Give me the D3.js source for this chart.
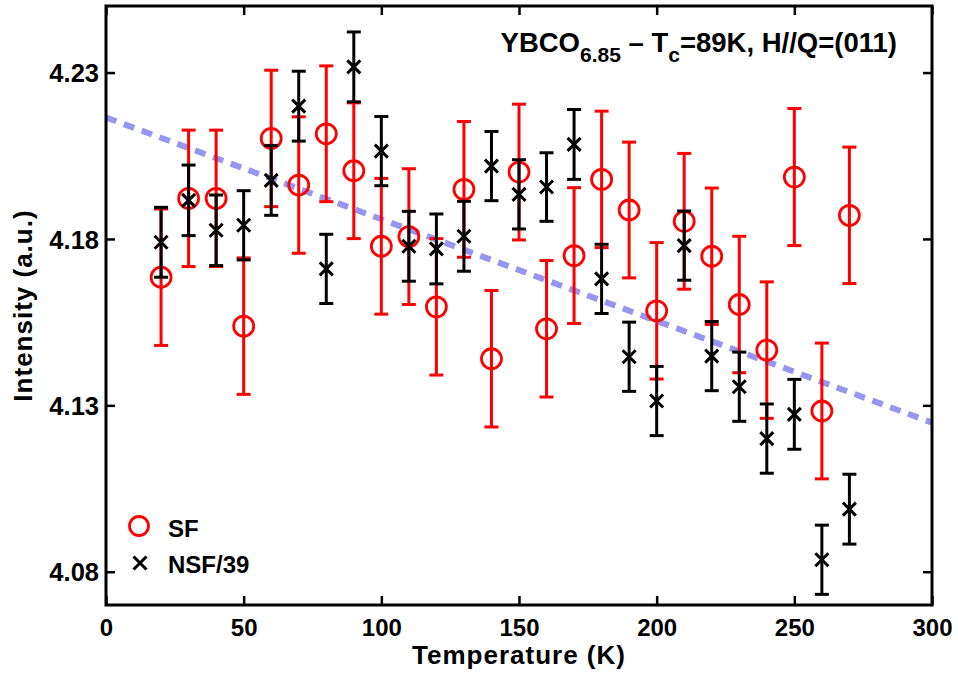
<!DOCTYPE html>
<html>
<head>
<meta charset="utf-8">
<script src="https://cdn.jsdelivr.net/npm/d3@7"></script>
<style>
  html, body { margin: 0; padding: 0; background: #fff; }
  svg { display: block; }
  text { font-family: "Liberation Sans", Arial, Helvetica, sans-serif; font-weight: bold; fill: #000; }
</style>
</head>
<body>
<div id="chart"></div>
<script>
// ---- data ----
const temperatures = [20, 30, 40, 50, 60, 70, 80, 90, 100, 110, 120, 130, 140, 150, 160, 170, 180, 190, 200, 210, 220, 230, 240, 250, 260, 270];
const sfValues  = [4.1685, 4.1922, 4.1922, 4.1538, 4.2102, 4.1962, 4.2116, 4.2005, 4.1778, 4.1807, 4.1596, 4.1949, 4.1440, 4.2001, 4.1530, 4.1750, 4.1979, 4.1887, 4.1584, 4.1853, 4.1748, 4.1603, 4.1466, 4.1986, 4.1283, 4.1871];
const sfErrors  = [0.0205, 0.0205, 0.0205, 0.0205, 0.0205, 0.0205, 0.0204, 0.0204, 0.0204, 0.0204, 0.0205, 0.0204, 0.0205, 0.0204, 0.0205, 0.0204, 0.0205, 0.0204, 0.0205, 0.0204, 0.0205, 0.0205, 0.0205, 0.0206, 0.0204, 0.0205];
const nsfValues = [4.1790, 4.1916, 4.1826, 4.1841, 4.1976, 4.2199, 4.1710, 4.2317, 4.2064, 4.1778, 4.1770, 4.1808, 4.2019, 4.1934, 4.1956, 4.2084, 4.1680, 4.1446, 4.1313, 4.1780, 4.1448, 4.1356, 4.1200, 4.1273, 4.0836, 4.0988];
const nsfErrors = [0.0105, 0.0106, 0.0106, 0.0104, 0.0105, 0.0105, 0.0104, 0.0105, 0.0104, 0.0105, 0.0105, 0.0105, 0.0104, 0.0104, 0.0103, 0.0105, 0.0104, 0.0104, 0.0104, 0.0104, 0.0104, 0.0104, 0.0104, 0.0105, 0.0104, 0.0105];
const fitTemperatures = [0, 300];
const fitValues = [4.2165, 4.1248];
const xTicks = [0, 50, 100, 150, 200, 250, 300];
const yTicks = [4.08, 4.13, 4.18, 4.23];
const xDomain = [0, 300];
const yDomain = [4.07, 4.25];

// ---- layout ----
const W = 958, H = 675;
const m = { left: 106, right: 26, top: 6, bottom: 70 };
const pw = W - m.left - m.right, ph = H - m.top - m.bottom;

const svg = d3.select("#chart").append("svg").attr("width", W).attr("height", H);
const g = svg.append("g").attr("transform", `translate(${m.left},${m.top})`);

const x = d3.scaleLinear().domain(xDomain).range([0, pw]);
const y = d3.scaleLinear().domain(yDomain).range([ph, 0]);

// fit line (under the data)
const fit = fitTemperatures.map((t, i) => ({ t, v: fitValues[i] }));
g.append("path")
  .datum(fit)
  .attr("d", d3.line().x(d => x(d.t)).y(d => y(d.v)))
  .attr("fill", "none")
  .attr("stroke", "rgb(150,150,240)")
  .attr("stroke-width", 6)
  .attr("stroke-dasharray", "11,8");

function errorBars(values, errors, color) {
  const data = temperatures.map((t, i) => ({ t, v: values[i], e: errors[i] }));
  const eg = g.append("g").attr("stroke", color).attr("stroke-width", 3).attr("fill", "none");
  eg.selectAll("line.v").data(data).join("line")
    .attr("x1", d => x(d.t)).attr("x2", d => x(d.t))
    .attr("y1", d => y(d.v - d.e)).attr("y2", d => y(d.v + d.e));
  eg.selectAll("line.top").data(data).join("line")
    .attr("x1", d => x(d.t) - 7).attr("x2", d => x(d.t) + 7)
    .attr("y1", d => y(d.v + d.e)).attr("y2", d => y(d.v + d.e));
  eg.selectAll("line.bot").data(data).join("line")
    .attr("x1", d => x(d.t) - 7).attr("x2", d => x(d.t) + 7)
    .attr("y1", d => y(d.v - d.e)).attr("y2", d => y(d.v - d.e));
  return data;
}

// SF
const sfData = errorBars(sfValues, sfErrors, "#ff0000");
g.append("g").selectAll("circle").data(sfData).join("circle")
  .attr("cx", d => x(d.t)).attr("cy", d => y(d.v)).attr("r", 10)
  .attr("fill", "none").attr("stroke", "#ff0000").attr("stroke-width", 2.8);

// NSF/39
const nsfData = errorBars(nsfValues, nsfErrors, "#000");
const cross = (sel, s) => sel.attr("d", d => {
  const cx = x(d.t), cy = y(d.v);
  return `M${cx - s},${cy - s}L${cx + s},${cy + s}M${cx - s},${cy + s}L${cx + s},${cy - s}`;
});
g.append("g").selectAll("path").data(nsfData).join("path")
  .call(cross, 6.5)
  .attr("fill", "none").attr("stroke", "#000").attr("stroke-width", 3);

// axes with inward ticks
const tl = 9;
const xb = g.append("g").attr("transform", `translate(0,${ph})`)
  .call(d3.axisBottom(x).tickValues(xTicks).tickFormat(d3.format("d")).tickSizeInner(-tl).tickSizeOuter(0));
xb.selectAll("text").attr("y", 14).attr("dy", "0.71em").style("font-size", "24px");
const xt = g.append("g")
  .call(d3.axisTop(x).tickValues(xTicks).tickFormat("").tickSizeInner(-tl).tickSizeOuter(0));
const yl = g.append("g")
  .call(d3.axisLeft(y).tickValues(yTicks).tickFormat(d3.format(".2f")).tickSizeInner(-tl).tickSizeOuter(0));
yl.selectAll("text").attr("x", -7).attr("dy", "0.36em").style("font-size", "25.5px");
const yr = g.append("g").attr("transform", `translate(${pw},0)`)
  .call(d3.axisRight(y).tickValues(yTicks).tickFormat("").tickSizeInner(-tl).tickSizeOuter(0));
[xb, xt, yl, yr].forEach(a => {
  a.select(".domain").remove();
  a.selectAll(".tick line").attr("stroke", "#000").attr("stroke-width", 2.5);
  a.selectAll("text").attr("font-family", null);
});

// frame
g.append("rect").attr("x", 0).attr("y", 0).attr("width", pw).attr("height", ph)
  .attr("fill", "none").attr("stroke", "#000").attr("stroke-width", 3);

// axis titles
svg.append("text").attr("x", m.left + pw / 2).attr("y", 664)
  .attr("text-anchor", "middle").style("font-size", "26px").style("letter-spacing", "1px")
  .text("Temperature (K)");
svg.append("text").attr("transform", `translate(32,${m.top + ph / 2}) rotate(-90)`)
  .attr("text-anchor", "middle").style("font-size", "26px").style("letter-spacing", "1px")
  .text("Intensity (a.u.)");

// title inside plot
const title = svg.append("text").attr("x", 897).attr("y", 52).attr("text-anchor", "end")
  .style("font-size", "27.5px");
title.append("tspan").text("YBCO");
title.append("tspan").attr("dy", 10).style("font-size", "21px").text("6.85");
title.append("tspan").attr("dy", -10).text(" \u2013 T");
title.append("tspan").attr("dy", 10).style("font-size", "21px").text("c");
title.append("tspan").attr("dy", -10).text("=89K, H//Q=(011)");

// legend
const lg = svg.append("g");
lg.append("circle").attr("cx", 139).attr("cy", 526).attr("r", 9.5)
  .attr("fill", "none").attr("stroke", "#ff0000").attr("stroke-width", 2.8);
lg.append("text").attr("x", 168).attr("y", 537).style("font-size", "24px").text("SF");
lg.append("path").attr("d", "M133.5,556.5L146.5,569.5M133.5,569.5L146.5,556.5")
  .attr("stroke", "#000").attr("stroke-width", 3);
lg.append("text").attr("x", 168).attr("y", 573).style("font-size", "24px").text("NSF/39");
</script>
</body>
</html>
